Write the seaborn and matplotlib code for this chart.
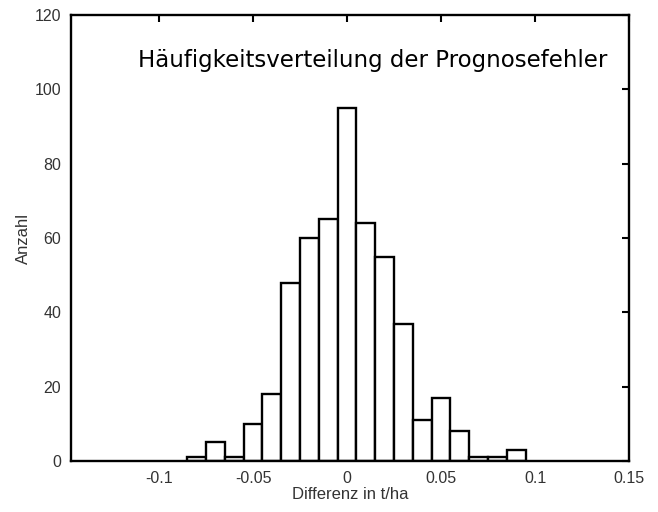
import numpy as np
import pandas as pd
import matplotlib
matplotlib.use("Agg")
import matplotlib.pyplot as plt
import seaborn as sns

# Data
bin_centers = [-0.08, -0.07, -0.06, -0.05, -0.04, -0.03, -0.02, -0.01, 0.0,
               0.01, 0.02, 0.03, 0.04, 0.05, 0.06, 0.07, 0.08, 0.09]
counts = [1, 5, 1, 10, 18, 48, 60, 65, 95, 64, 55, 37, 11, 17, 8, 1, 1, 3]
x_ticks = [-0.1, -0.05, 0, 0.05, 0.1, 0.15]
x_tick_labels = ["-0.1", "-0.05", "0", "0.05", "0.1", "0.15"]
y_ticks = [0, 20, 40, 60, 80, 100, 120]
title_text = "Häufigkeitsverteilung der Prognosefehler"
x_label = "Differenz in t/ha"
y_label = "Anzahl"

sns.set_theme(style="white")
plt.rcParams['font.family'] = ['Liberation Sans', 'DejaVu Sans']

df = pd.DataFrame({"center": bin_centers, "count": counts})
width = 0.01
edges = [float(c - width / 2) for c in bin_centers] + [float(bin_centers[-1] + width / 2)]

fig = plt.figure(figsize=(6.58, 5.12), dpi=100)
ax = fig.add_axes([0.108, 0.0996, 0.848, 0.871])

sns.histplot(data=df, x="center", weights="count", bins=edges,
             color="white", edgecolor="black", linewidth=1.7, alpha=1, ax=ax)

ax.set_xlim(-0.1468, 0.15)
ax.set_ylim(0, 120)
ax.set_xticks(x_ticks)
ax.set_xticklabels(x_tick_labels)
ax.set_yticks(y_ticks)

ax.tick_params(direction="in", length=5, width=1.5, top=True, right=True,
               labelsize=11.5, labelcolor="#333333", color="black")
ax.tick_params(axis="x", pad=7)
ax.tick_params(axis="y", pad=7)
for s in ax.spines.values():
    s.set_visible(True)
    s.set_color("black")
    s.set_linewidth(1.7)

ax.set_xlabel(x_label, fontsize=12, color="#333333", labelpad=1)
ax.set_ylabel(y_label, fontsize=12, color="#333333", labelpad=3)

ax.text(0.54, 0.899, title_text, transform=ax.transAxes, ha="center", va="center",
        fontsize=16.5, color="black", family=["DejaVu Sans"])

fig.savefig("out.png", dpi=100)
